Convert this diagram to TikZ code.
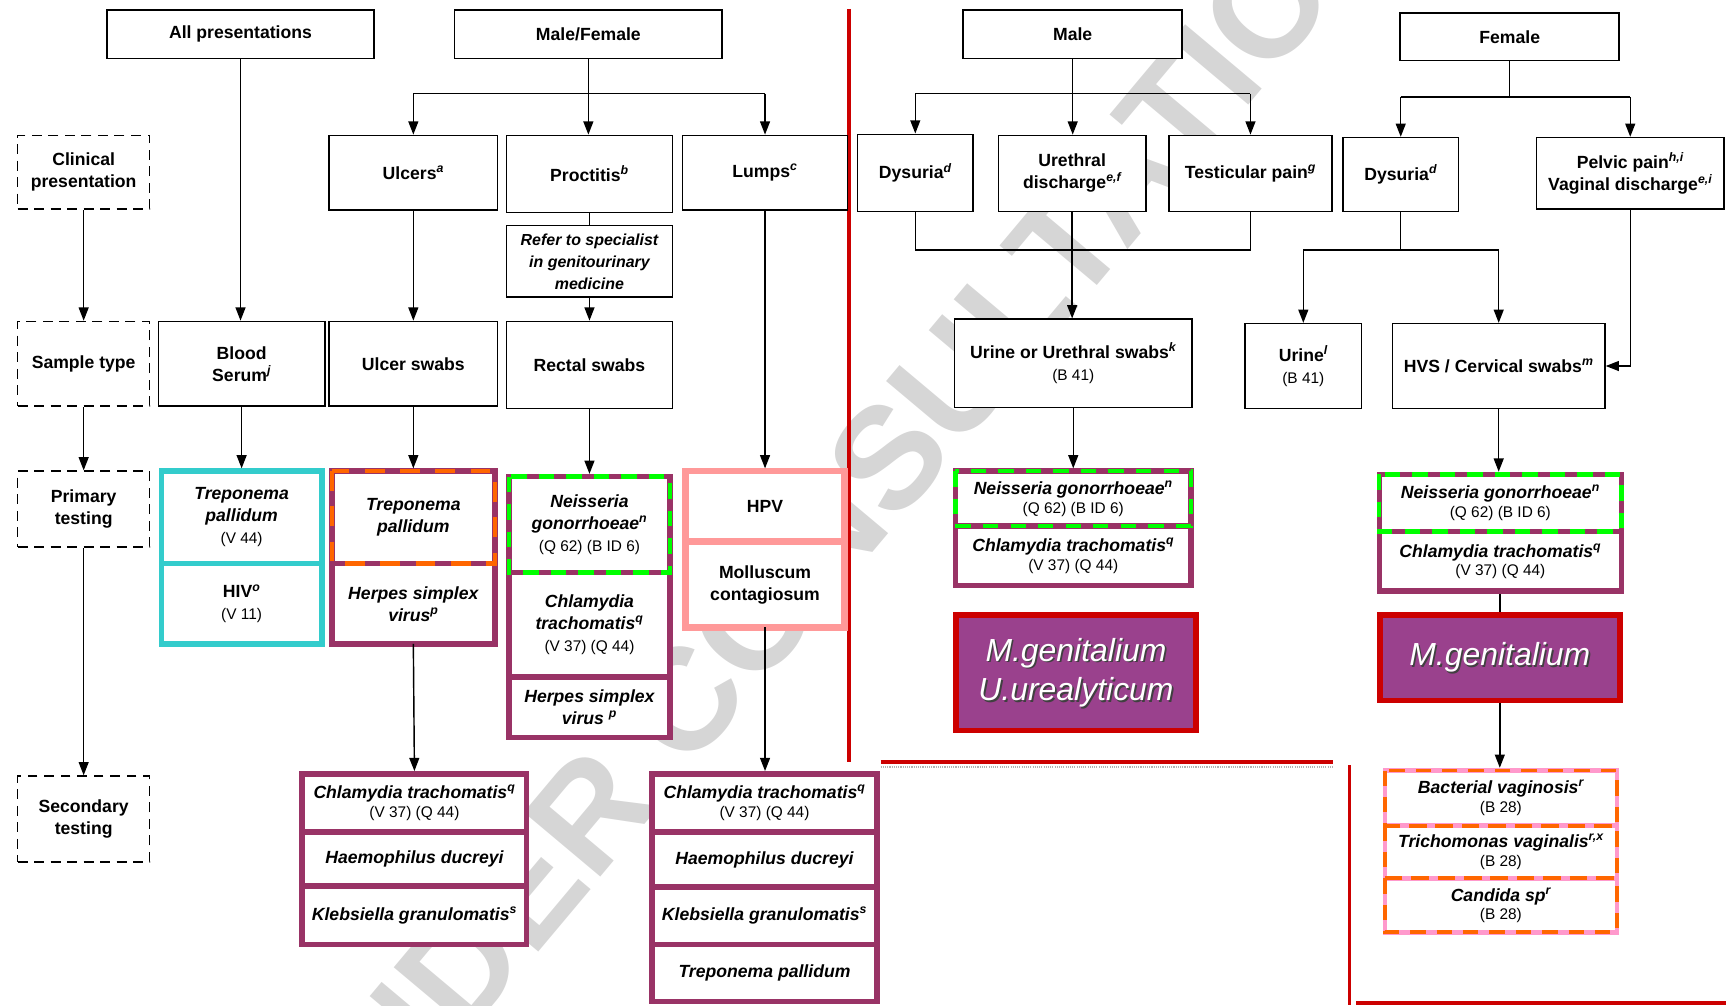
\documentclass[tikz,border=0pt]{standalone}
\usepackage{fontspec}
\setmainfont{Liberation Sans}
\usetikzlibrary{arrows.meta}

\definecolor{tealc}{HTML}{33CCCC}
\definecolor{plum}{HTML}{993366}
\definecolor{orng}{HTML}{FF6600}
\definecolor{lgreen}{HTML}{00FF00}
\definecolor{salmon}{HTML}{FF9999}
\definecolor{rose}{HTML}{FF99CC}
\definecolor{mgfill}{HTML}{9A418D}
\definecolor{redline}{HTML}{CC0000}
\definecolor{wmgray}{HTML}{D6D6D6}

\newcommand\lblfont{\fontsize{16}{20}\selectfont\bfseries}
\newcommand\smallref{\fontsize{14}{19}\selectfont\mdseries\upshape}
\newcommand\fn[1]{\textsuperscript{\itshape #1}}

\begin{document}
\begin{tikzpicture}[x=1pt,y=-1pt,
  box/.style={draw, line width=1.4pt, fill=white, align=center, inner sep=2pt, font=\lblfont},
  dbox/.style={box, dash pattern=on 9pt off 6pt},
  cell/.style={fill=white, line width=5pt, align=center, inner sep=0pt, outer sep=0pt, font=\lblfont\itshape},
  upcell/.style={font=\lblfont},
  cellp/.style={cell, draw=plum},
  cellc/.style={cell, draw=tealc},
  cellsal/.style={cell, draw=salmon, line width=6pt},
  cellr/.style={cell, draw=rose, line width=4pt},
  ln/.style={line width=1.3pt},
  arr/.style={ln, -{Triangle[width=9pt,length=12pt]}},
  arrc/.style={arr, shorten >=2.5pt},
  odash/.style={orng, line width=4pt, dash pattern=on 18pt off 14pt},
  gdash/.style={lgreen, line width=4pt, dash pattern=on 14pt off 11pt},
  fdash/.style={orng, line width=3.5pt, dash pattern=on 14pt off 10pt},
  mgbox/.style={draw=redline, line width=5pt, fill=mgfill},
  mgtext/.style={align=center, font=\fontsize{29}{36}\selectfont\itshape},
  redrule/.style={redline, line width=3.5pt}
]
\useasboundingbox (0,0) rectangle (1568,913);

% watermark
\node[rotate=50, text=wmgray, inner sep=0pt, font=\fontsize{132}{132}\selectfont\bfseries] (wm) at (755,477) {UNDER CONSULTATION};

% red separators
\draw[redrule] (771,8) -- (771,692);
\draw[redrule] (800,692) -- (1211,692);
\draw[gray!60, line width=2pt, dash pattern=on 1pt off 1pt] (800,697) -- (1211,697);
\draw[redrule] (1226,695) -- (1226,913);
\draw[redrule] (1232,911) -- (1568,911);

% top headers
\node[box, minimum width=243pt, minimum height=44pt] (allp) at (218.5,31) {All presentations};
\node[box, minimum width=243pt, minimum height=44pt] (mf) at (534.5,31) {Male/Female};
\node[box, minimum width=199pt, minimum height=44pt] (male) at (974.5,31) {Male};
\node[box, minimum width=199pt, minimum height=43pt] (female) at (1371.5,33.5) {Female};

% row labels
\node[dbox, minimum width=120pt, minimum height=67pt] (clin) at (76,156.5) {Clinical\\presentation};
\node[dbox, minimum width=120pt, minimum height=77pt] (samp) at (76,330.5) {Sample type};
\node[dbox, minimum width=120pt, minimum height=69pt] (prim) at (76,462.5) {Primary\\testing};
\node[dbox, minimum width=120pt, minimum height=78pt] (sec) at (76,744) {Secondary\\testing};

% clinical presentations
\node[box, minimum width=153pt, minimum height=68pt] (ulcers) at (375.5,157) {Ulcers\fn{a}};
\node[box, minimum width=151pt, minimum height=70pt] (proct) at (535.5,158) {Proctitis\fn{b}};
\node[box, minimum width=150pt, minimum height=68pt] (lumps) at (695,157) {Lumps\fn{c}};
\node[box, minimum width=105pt, minimum height=70pt] (dysm) at (831.5,157) {Dysuria\fn{d}};
\node[box, minimum width=134pt, minimum height=69pt] (ureth) at (974,157.5) {Urethral\\discharge\fn{e,f}};
\node[box, minimum width=148pt, minimum height=69pt] (test) at (1136,157.5) {Testicular pain\fn{g}};
\node[box, minimum width=105pt, minimum height=67pt] (dysf) at (1272.5,158.5) {Dysuria\fn{d}};
\node[box, minimum width=170pt, minimum height=65pt] (pelvic) at (1481,157.5) {Pelvic pain\fn{h,i}\\Vaginal discharge\fn{e,i}};
\node[box, minimum width=151pt, minimum height=65pt, font=\fontsize{14.5}{20}\selectfont\bfseries\itshape] (refer) at (535.5,237.5) {Refer to specialist\\in genitourinary\\medicine};

% sample types
\node[box, minimum width=151pt, minimum height=77pt] (blood) at (219.5,330.5) {Blood\\Serum\fn{j}};
\node[box, minimum width=153pt, minimum height=77pt] (ulcsw) at (375.5,330.5) {Ulcer swabs};
\node[box, minimum width=151pt, minimum height=79pt] (rectsw) at (535.5,331.5) {Rectal swabs};
\node[box, minimum width=216pt, minimum height=80pt] (urinem) at (975,330) {Urine or Urethral swabs\fn{k}\\{\smallref (B 41)}};
\node[box, minimum width=106pt, minimum height=77pt] (urinef) at (1184,332.5) {Urine\fn{l}\\{\smallref (B 41)}};
\node[box, minimum width=193pt, minimum height=77pt] (hvs) at (1361.5,332.5) {HVS / Cervical swabs\fn{m}};

% primary testing: blood
\node[cellc, minimum width=146pt, minimum height=84pt] (bt) at (219.5,470) {Treponema\\pallidum\\{\smallref (V 44)}};
\node[cellc, upcell, minimum width=146pt, minimum height=73pt] (bb) at (219.5,548.5) {HIV\fn{o}\\{\smallref (V 11)}};
% primary testing: ulcer swabs
\node[cellp, minimum width=148pt, minimum height=73pt] (ub) at (375.5,548.5) {Herpes simplex\\virus\fn{p}};
\node[cellp, minimum width=148pt, minimum height=84pt] (ut) at (375.5,470) {Treponema\\pallidum};
\draw[odash] (ut.north west) rectangle (ut.south east);
% primary testing: rectal swabs
\node[cellp, minimum width=146pt, minimum height=95pt] (rm) at (535.5,567.5) {Chlamydia\\trachomatis\fn{q}\\{\smallref (V 37) (Q 44)}};
\node[cellp, minimum width=146pt, minimum height=55pt] (rb) at (535.5,642.5) {Herpes simplex\\virus \fn{p}};
\node[cellp, minimum width=146pt, minimum height=87pt] (rt) at (535.5,476.5) {Neisseria\\gonorrhoeae\fn{n}\\{\smallref (Q 62) (B ID 6)}};
\draw[gdash] (rt.north west) rectangle (rt.south east);
% primary testing: lumps
\node[cellsal, upcell, minimum width=144pt, minimum height=64pt] (ht) at (695,460) {HPV};
\node[cellsal, upcell, minimum width=144pt, minimum height=78pt] (hb) at (695,531) {Molluscum\\contagiosum};
% primary testing: male
\node[cellp, minimum width=214pt, minimum height=54pt] (mb) at (975,505) {Chlamydia trachomatis\fn{q}\\[-3pt]{\smallref (V 37) (Q 44)}};
\node[cellp, minimum width=214pt, minimum height=50pt] (mt) at (975,453) {Neisseria gonorrhoeae\fn{n}\\[-3pt]{\smallref (Q 62) (B ID 6)}};
\draw[gdash] (mt.north west) rectangle (mt.south east);
% primary testing: female
\node[cellp, minimum width=220pt, minimum height=54pt] (fb) at (1363,510) {Chlamydia trachomatis\fn{q}\\[-3pt]{\smallref (V 37) (Q 44)}};
\node[cellp, minimum width=220pt, minimum height=52pt] (ft) at (1363,457) {Neisseria gonorrhoeae\fn{n}\\[-3pt]{\smallref (Q 62) (B ID 6)}};
\draw[gdash] (ft.north west) rectangle (ft.south east);

% additional organisms
\node[mgbox, minimum width=218pt, minimum height=105pt] (mgm) at (977.5,611) {};
\node[mgtext, text=black!75] (mgmsh) at ([shift={(1.5,1.5)}]mgm.center) {M.genitalium\\U.urealyticum};
\node[mgtext, text=white] (mgmtx) at (mgm.center) {M.genitalium\\U.urealyticum};
\node[mgbox, minimum width=218pt, minimum height=78pt] (mgf) at (1362.5,597.5) {};
\node[mgtext, text=black!75] (mgfsh) at ([shift={(1.5,1.5)}]mgf.center) {M.genitalium};
\node[mgtext, text=white] (mgftx) at (mgf.center) {M.genitalium};

% secondary testing: ulcers
\node[cellp, minimum width=204pt, minimum height=53pt] (us1) at (376.5,729.5) {Chlamydia trachomatis\fn{q}\\[-3pt]{\smallref (V 37) (Q 44)}};
\node[cellp, minimum width=204pt, minimum height=49pt] (us2) at (376.5,780.5) {Haemophilus ducreyi};
\node[cellp, minimum width=204pt, minimum height=53pt] (us3) at (376.5,831.5) {Klebsiella granulomatis\fn{s}};
% secondary testing: lumps
\node[cellp, minimum width=204pt, minimum height=53pt] (ls1) at (694.5,729.5) {Chlamydia trachomatis\fn{q}\\[-3pt]{\smallref (V 37) (Q 44)}};
\node[cellp, minimum width=204pt, minimum height=50pt] (ls2) at (694.5,781) {Haemophilus ducreyi};
\node[cellp, minimum width=204pt, minimum height=52pt] (ls3) at (694.5,832) {Klebsiella granulomatis\fn{s}};
\node[cellp, minimum width=204pt, minimum height=52pt] (ls4) at (694.5,884) {Treponema pallidum};
% secondary testing: female
\node[cellr, minimum width=211pt, minimum height=50pt] (fs1) at (1363.5,725) {Bacterial vaginosis\fn{r}\\[-3pt]{\smallref (B 28)}};
\node[cellr, minimum width=211pt, minimum height=48pt] (fs2) at (1363.5,774) {Trichomonas vaginalis\fn{r,x}\\[-3pt]{\smallref (B 28)}};
\node[cellr, minimum width=211pt, minimum height=49pt] (fs3) at (1363.5,822.5) {Candida sp\fn{r}\\[-3pt]{\smallref (B 28)}};
\draw[fdash] (fs1.north west) rectangle (fs1.south east);
\draw[fdash] (fs2.north west) rectangle (fs2.south east);
\draw[fdash] (fs3.north west) rectangle (fs3.south east);

% connectors: row labels
\draw[arr] (clin.south) -- (samp.north);
\draw[arr] (samp.south) -- (prim.north);
\draw[arr] (prim.south) -- (sec.north);

% connectors: all presentations
\draw[arr] (allp.south) -- (allp.south |- blood.north);

% connectors: male/female
\coordinate (mfbar) at (534.5,85);
\draw[ln] (mfbar -| ulcers.north) -- (mfbar -| lumps.north);
\draw[arr] (mf.south) -- (mf.south |- proct.north);
\draw[arr] (mfbar -| ulcers.north) -- (ulcers.north);
\draw[arr] (mfbar -| lumps.north) -- (lumps.north);
\draw[arr] (ulcers.south) -- (ulcsw.north);
\draw[ln] (proct.south) -- (refer.north);
\draw[arr] (refer.south) -- (rectsw.north);
\draw[arrc] (lumps.south) -- (ht.north);
\draw[arrc] (blood.south) -- (bt.north);
\draw[arrc] (ulcsw.south) -- (ut.north);
\draw[arrc] (rectsw.south) -- (rt.north);
\draw[arrc] (ub.south) -- (us1.north);
\draw[arrc] (hb.south) -- (hb.south |- ls1.north);

% connectors: male
\coordinate (mbar) at (974.5,85);
\draw[ln] (mbar -| dysm.north) -- (mbar -| test.north);
\draw[arr] (male.south) -- (male.south |- ureth.north);
\draw[arr] (mbar -| dysm.north) -- (dysm.north);
\draw[arr] (mbar -| test.north) -- (test.north);
\coordinate (mlow) at (974,227);
\draw[ln] (dysm.south) -- (dysm.south |- mlow) -- (test.south |- mlow) -- (test.south);
\draw[arr] (ureth.south) -- (ureth.south |- urinem.north);
\draw[arrc] (urinem.south) -- (urinem.south |- mt.north);

% connectors: female
\coordinate (fbar) at (1371.5,88);
\draw[ln] (female.south) -- (fbar);
\draw[ln] (fbar -| dysf.north) -- (fbar -| pelvic.north);
\draw[arr] (fbar -| dysf.north) -- (dysf.north);
\draw[arr] (fbar -| pelvic.north) -- (pelvic.north);
\coordinate (flow) at (1272.5,227);
\draw[ln] (dysf.south) -- (flow);
\draw[ln] (flow -| urinef.north) -- (flow -| hvs.north);
\draw[arr] (flow -| urinef.north) -- (urinef.north);
\draw[arr] (flow -| hvs.north) -- (hvs.north);
\draw[arr] (pelvic.south) |- (hvs.east);
\draw[arrc] (hvs.south) -- (hvs.south |- ft.north);
\draw[ln, shorten <=2.5pt] (fb.south -| mgf.north) -- (mgf.north);
\draw[arrc] (mgf.south) -- (mgf.south |- fs1.north);
\end{tikzpicture}
\end{document}
